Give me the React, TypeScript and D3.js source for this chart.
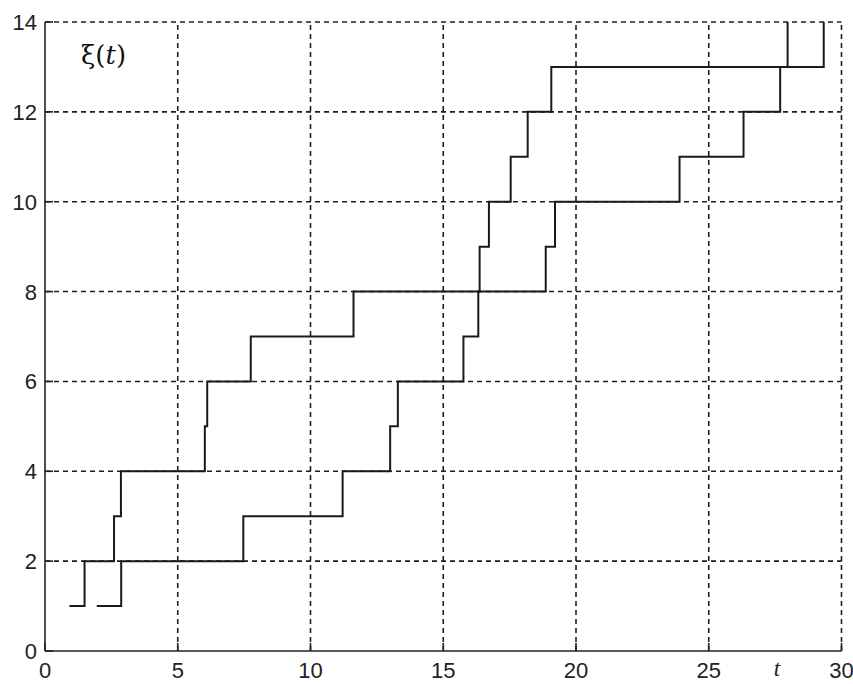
import React from "react";
import * as d3 from "d3";

// Jump times of the two counting-process realisations and the level reached at each jump
const jumpsA = [0.92, 1.49, 2.6, 2.86, 6.02, 6.11, 7.75, 11.62, 16.37, 16.72, 17.54, 18.18, 19.07, 27.97];
const levelsA = [1, 2, 3, 4, 5, 6, 7, 8, 9, 10, 11, 12, 13, 14];
const jumpsB = [1.95, 2.87, 7.47, 11.21, 13.0, 13.29, 15.76, 16.32, 18.86, 19.21, 23.9, 26.31, 27.69, 29.33];
const levelsB = [1, 2, 3, 4, 5, 6, 7, 8, 9, 10, 11, 12, 13, 14];

const xTicks = [0, 5, 10, 15, 20, 25, 30];
const yTicks = [0, 2, 4, 6, 8, 10, 12, 14];

const W = 853;
const H = 684;

export default function App() {
  const x = d3.scaleLinear().domain([0, 30]).range([45, 841.5]);
  const y = d3.scaleLinear().domain([0, 14]).range([651, 22]);

  const step = d3
    .line<[number, number]>()
    .x((d) => x(d[0]))
    .y((d) => y(d[1]))
    .curve(d3.curveStepAfter);

  const pathA = step(jumpsA.map((t, i) => [t, levelsA[i]] as [number, number])) || "";
  const pathB = step(jumpsB.map((t, i) => [t, levelsB[i]] as [number, number])) || "";

  const [x0, x1] = x.range();
  const [y0, y1] = y.range();
  const tickFont = "'Liberation Sans', Arial, sans-serif";

  return (
    <svg
      width={W}
      height={H}
      viewBox={`0 0 ${W} ${H}`}
      style={{ position: "absolute", left: 0, top: 0, background: "#fff" }}
    >
      <rect x={0} y={0} width={W} height={H} fill="#fff" />
      {/* dashed grid */}
      <g stroke="#1e1e1e" strokeWidth={1.6} strokeDasharray="5,4" fill="none">
        {xTicks
          .filter((t) => t > 0)
          .map((t) => (
            <line key={`gx${t}`} x1={x(t)} x2={x(t)} y1={y0} y2={y1} />
          ))}
        {yTicks
          .filter((t) => t > 0)
          .map((t) => (
            <line key={`gy${t}`} x1={x0} x2={x1} y1={y(t)} y2={y(t)} />
          ))}
      </g>
      {/* axes and inward ticks */}
      <g stroke="#222" strokeWidth={1.6} fill="none">
        <line x1={x0} x2={x0} y1={y0} y2={y1} />
        <line x1={x0} x2={x1} y1={y0} y2={y0} />
        {xTicks.map((t) => (
          <line key={`tx${t}`} x1={x(t)} x2={x(t)} y1={y0} y2={y0 - 8} />
        ))}
        {yTicks.map((t) => (
          <line key={`ty${t}`} x1={x0} x2={x0 + 8} y1={y(t)} y2={y(t)} />
        ))}
      </g>
      {/* tick labels */}
      <g fill="#222" fontFamily={tickFont} fontSize={22}>
        {xTicks.map((t) => (
          <text key={`lx${t}`} x={x(t)} y={678} textAnchor="middle">
            {t}
          </text>
        ))}
        {yTicks.map((t) => (
          <text key={`ly${t}`} x={37} y={y(t) + 8} textAnchor="end">
            {t}
          </text>
        ))}
      </g>
      {/* sample paths */}
      <path d={pathA} fill="none" stroke="#1a1a1a" strokeWidth={2} />
      <path d={pathB} fill="none" stroke="#1a1a1a" strokeWidth={2} />
      {/* axis captions */}
      <text
        x={777}
        y={676}
        textAnchor="middle"
        fontFamily="'Liberation Serif', 'Times New Roman', serif"
        fontStyle="italic"
        fontSize={23}
        fill="#222"
      >
        t
      </text>
      <text
        x={81}
        y={64}
        fontFamily="'DejaVu Serif', 'Liberation Serif', serif"
        fontSize={26}
        fill="#111"
      >
        ξ(<tspan fontStyle="italic">t</tspan>)
      </text>
    </svg>
  );
}
